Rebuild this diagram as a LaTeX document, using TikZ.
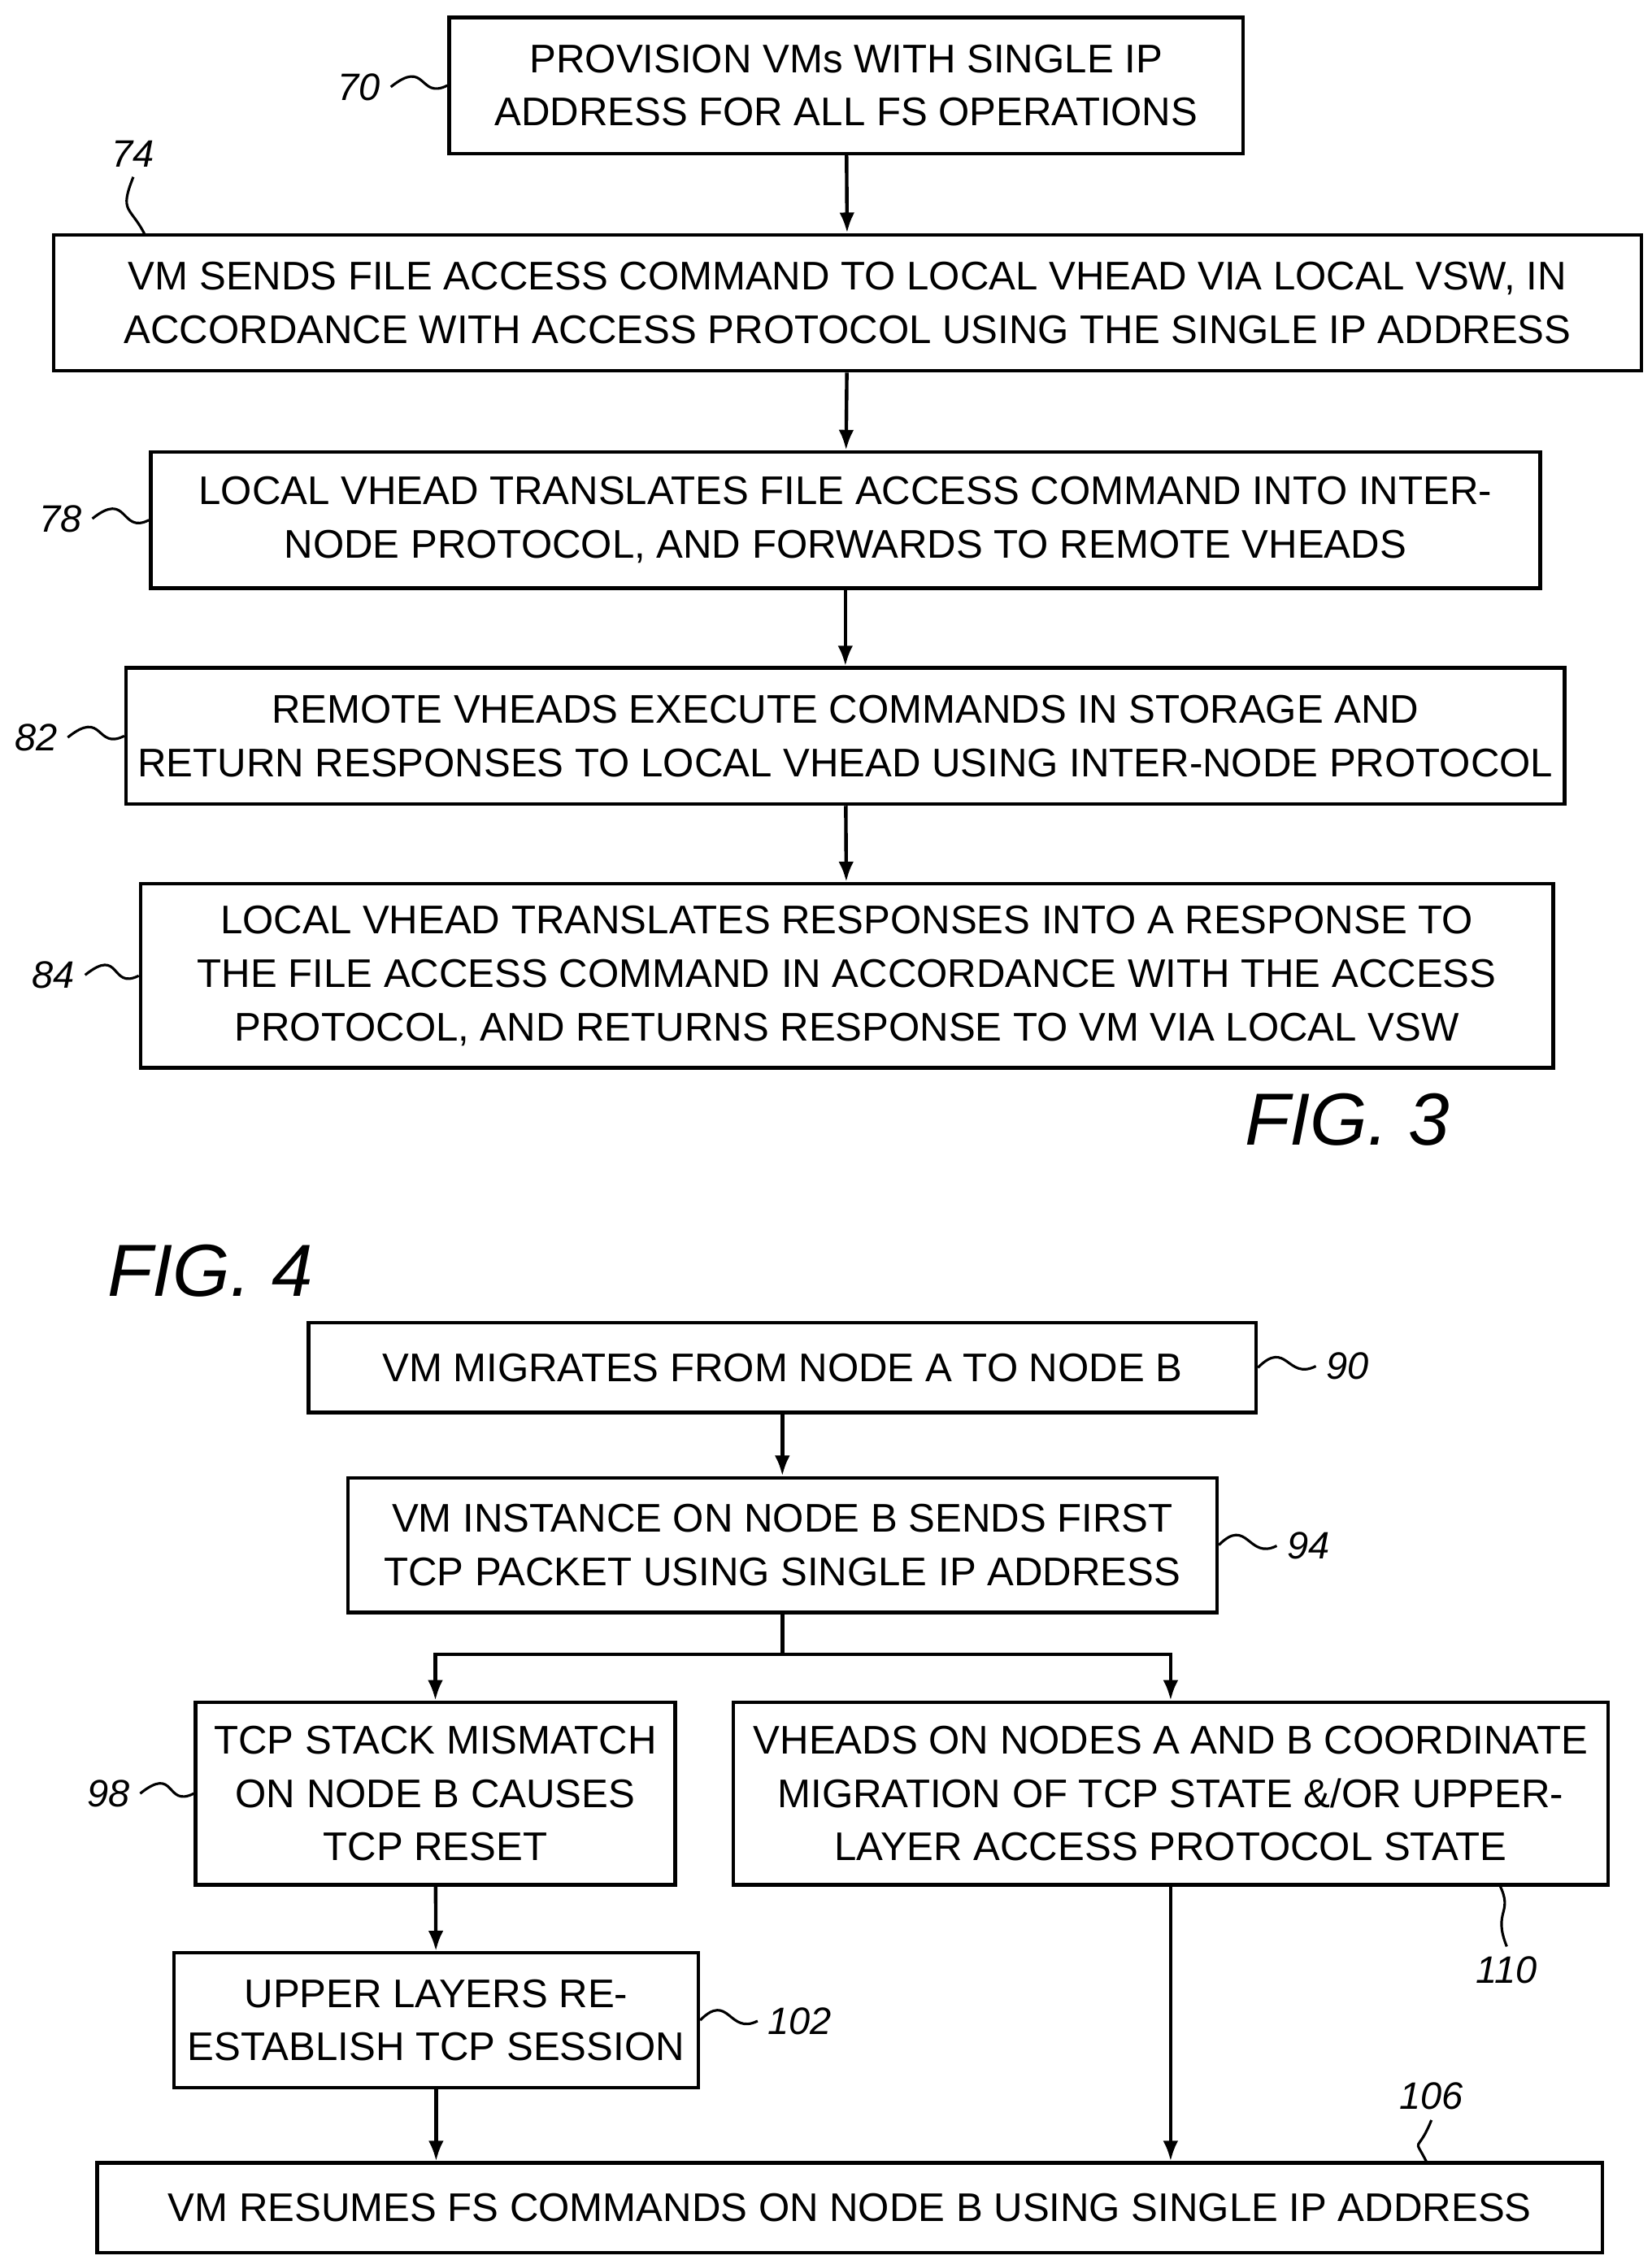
\documentclass[tikz,border=0pt]{standalone}
\usepackage{fontspec}
\setmainfont{Liberation Sans}
\usetikzlibrary{arrows.meta}
\begin{document}
\begin{tikzpicture}[x=0.02cm,y=-0.02cm,line width=1.4pt,
    box/.style={draw,rectangle,align=center,inner sep=0pt,font=\fontsize{15.7}{21}\selectfont},
    ref/.style={font=\fontsize{15}{17}\selectfont\itshape},
    fig/.style={font=\fontsize{29}{32}\selectfont\itshape},
    flow/.style={-{Latex[length=8pt,width=6pt]}}]

    \useasboundingbox (0,0) rectangle (1140,1560);

    % FIG. 3
    \node[box,minimum width=548*0.02cm,minimum height=94*0.02cm] (b70) at (584,59) {PROVISION VMs WITH SINGLE IP\\ADDRESS FOR ALL FS OPERATIONS};
    \node[box,minimum width=1096*0.02cm,minimum height=94*0.02cm] (b74) at (585,209) {VM SENDS FILE ACCESS COMMAND TO LOCAL VHEAD VIA LOCAL VSW, IN\\ACCORDANCE WITH ACCESS PROTOCOL USING THE SINGLE IP ADDRESS};
    \node[box,minimum width=959*0.02cm,minimum height=94*0.02cm] (b78) at (583.5,359) {LOCAL VHEAD TRANSLATES FILE ACCESS COMMAND INTO INTER-\\NODE PROTOCOL, AND FORWARDS TO REMOTE VHEADS};
    \node[box,minimum width=993*0.02cm,minimum height=94*0.02cm] (b82) at (583.5,508) {REMOTE VHEADS EXECUTE COMMANDS IN STORAGE AND\\RETURN RESPONSES TO LOCAL VHEAD USING INTER-NODE PROTOCOL};
    \node[box,minimum width=975*0.02cm,minimum height=127*0.02cm] (b84) at (584.5,673.5) {LOCAL VHEAD TRANSLATES RESPONSES INTO A RESPONSE TO\\THE FILE ACCESS COMMAND IN ACCORDANCE WITH THE ACCESS\\PROTOCOL, AND RETURNS RESPONSE TO VM VIA LOCAL VSW};

    \draw[flow] (b70) -- (b74);
    \draw[flow] (b74) -- (b78);
    \draw[flow] (b78) -- (b82);
    \draw[flow] (b82) -- (b84);

    \node[ref] (l70) at (248,60) {70};
    \node[ref] (l74) at (92,106) {74};
    \node[ref] (l78) at (42,358) {78};
    \node[ref] (l82) at (25,509) {82};
    \node[ref] (l84) at (37,673) {84};
    \coordinate (t74) at (100,162);
    \draw[line width=1pt] (l70.east) .. controls +(25,-20) and +(-20,10) .. (b70.west);
    \draw[line width=1pt] (l74.south) .. controls +(-10,25) and +(-10,-20) .. (t74);
    \draw[line width=1pt] (l78.east) .. controls +(25,-20) and +(-20,10) .. (b78.west);
    \draw[line width=1pt] (l82.east) .. controls +(25,-20) and +(-20,10) .. (b82.west);
    \draw[line width=1pt] (l84.east) .. controls +(25,-20) and +(-20,10) .. (b84.west);

    \node[fig] (f3) at (930,773) {FIG. 3};

    % FIG. 4
    \node[fig] (f4) at (145,877) {FIG. 4};
    \node[box,minimum width=654*0.02cm,minimum height=62*0.02cm] (b90) at (540,944) {VM MIGRATES FROM NODE A TO NODE B};
    \node[box,minimum width=600*0.02cm,minimum height=93*0.02cm] (b94) at (540,1066.5) {VM INSTANCE ON NODE B SENDS FIRST\\TCP PACKET USING SINGLE IP ADDRESS};
    \node[box,minimum width=331*0.02cm,minimum height=126*0.02cm] (b98) at (300.5,1238) {TCP STACK MISMATCH\\ON NODE B CAUSES\\TCP RESET};
    \node[box,minimum width=604*0.02cm,minimum height=126*0.02cm] (b110) at (808,1238) {VHEADS ON NODES A AND B COORDINATE\\MIGRATION OF TCP STATE \&/OR UPPER-\\LAYER ACCESS PROTOCOL STATE};
    \node[box,minimum width=362*0.02cm,minimum height=93*0.02cm] (b102) at (301,1394.5) {UPPER LAYERS RE-\\ESTABLISH TCP SESSION};
    \node[box,minimum width=1039*0.02cm,minimum height=62*0.02cm] (b106) at (586.5,1524) {VM RESUMES FS COMMANDS ON NODE B USING SINGLE IP ADDRESS};

    \coordinate (split) at (540,1142);
    \draw[flow] (b90) -- (b94);
    \draw (b94.south) -- (split);
    \draw[flow] (split) -| (b98.north);
    \draw[flow] (split) -| (b110.north);
    \draw[flow] (b98) -- (b102);
    \draw[flow] (b102.south) -- (b106.north -| b102.south);
    \draw[flow] (b110.south) -- (b106.north -| b110.south);

    \node[ref] (l90) at (930,943) {90};
    \node[ref] (l94) at (903,1067) {94};
    \node[ref] (l98) at (75,1238) {98};
    \node[ref] (l102) at (552,1395) {102};
    \node[ref] (l110) at (1040,1360) {110};
    \node[ref] (l106) at (988,1447) {106};
    \coordinate (t110) at (1035,1301);
    \coordinate (t106) at (985,1493);
    \draw[line width=1pt] (b90.east) .. controls +(20,-20) and +(-20,10) .. (l90.west);
    \draw[line width=1pt] (b94.east) .. controls +(20,-20) and +(-20,10) .. (l94.west);
    \draw[line width=1pt] (l98.east) .. controls +(25,-20) and +(-20,10) .. (b98.west);
    \draw[line width=1pt] (b102.east) .. controls +(20,-20) and +(-20,10) .. (l102.west);
    \draw[line width=1pt] (l110.north) .. controls +(-10,-25) and +(10,20) .. (t110);
    \draw[line width=1pt] (l106.south) .. controls +(-10,25) and +(-10,-20) .. (t106);
\end{tikzpicture}
\end{document}
